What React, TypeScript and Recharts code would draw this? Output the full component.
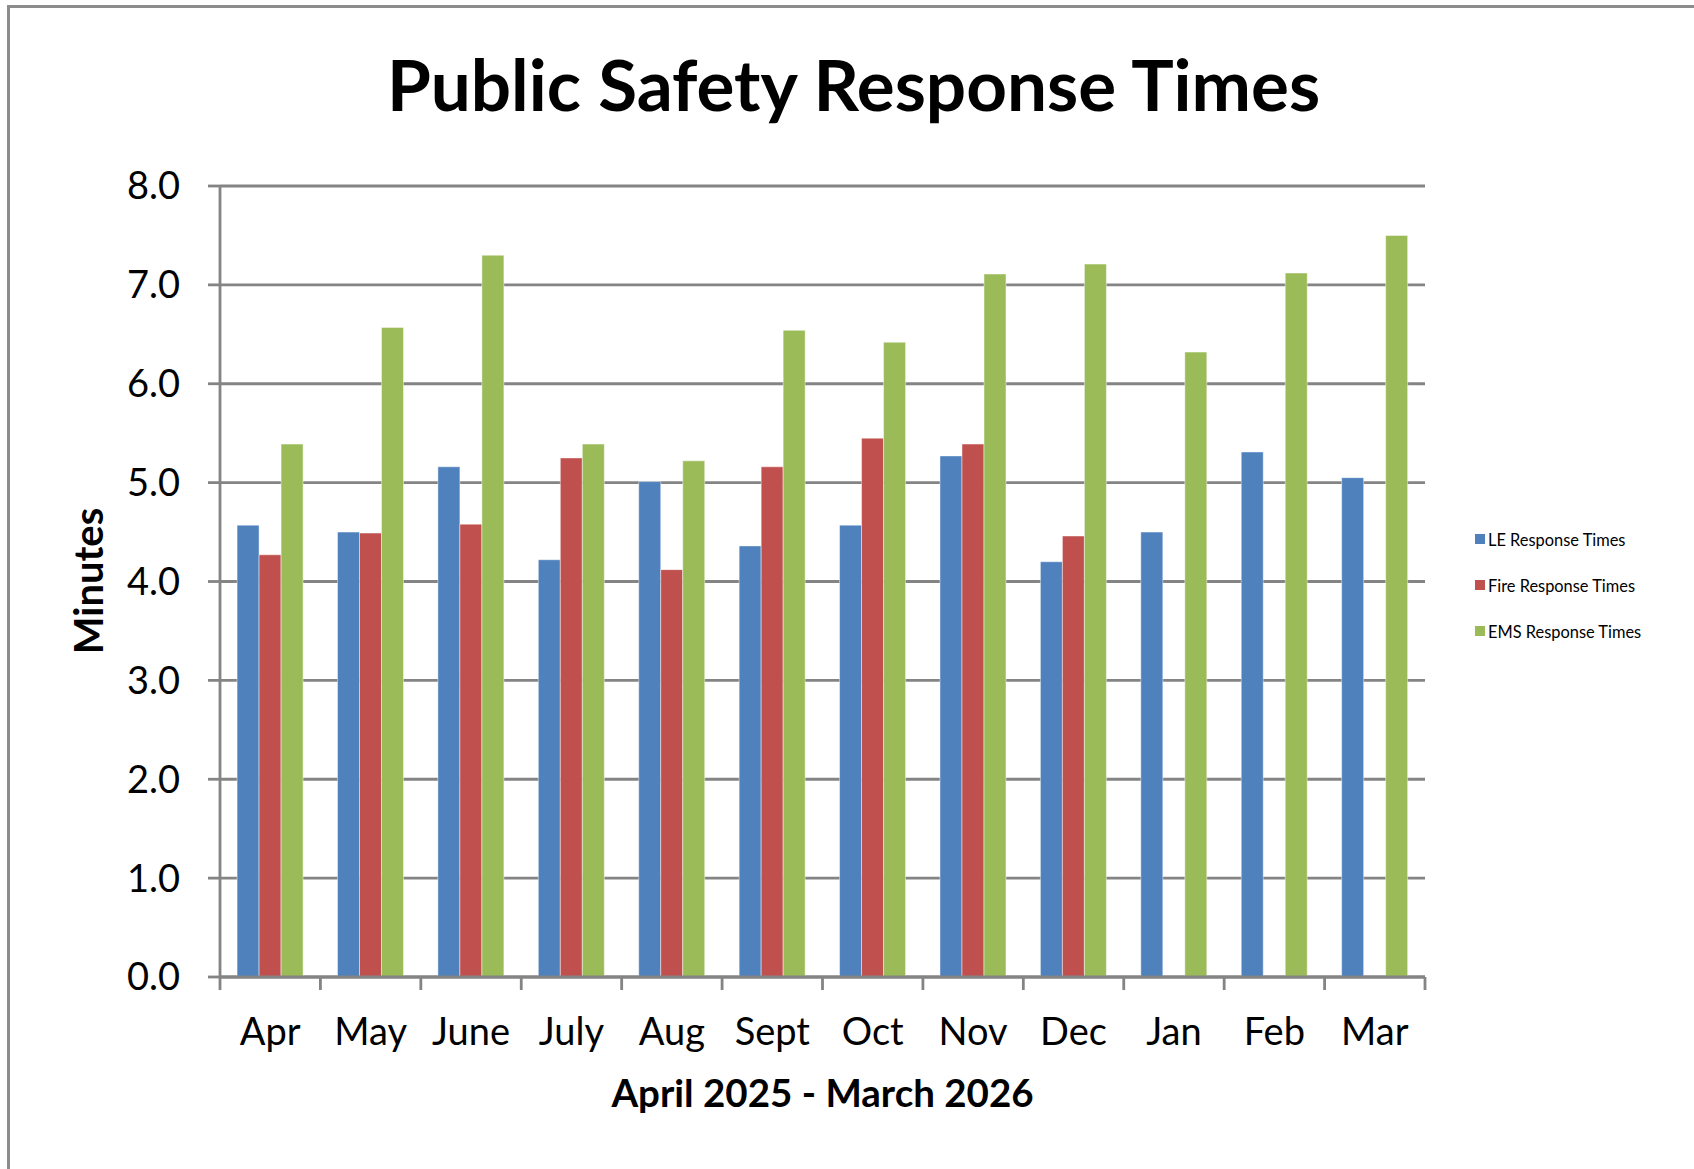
import { BarChart, Bar, XAxis, YAxis, CartesianGrid } from "recharts";

const MONTHS = ["Apr", "May", "June", "July", "Aug", "Sept", "Oct", "Nov", "Dec", "Jan", "Feb", "Mar"];
const LE_TIMES = [4.57, 4.5, 5.16, 4.22, 5.01, 4.36, 4.57, 5.27, 4.2, 4.5, 5.31, 5.05];
const FIRE_TIMES = [4.27, 4.49, 4.58, 5.25, 4.12, 5.16, 5.45, 5.39, 4.46, null, null, null];
const EMS_TIMES = [5.39, 6.57, 7.3, 5.39, 5.22, 6.54, 6.42, 7.11, 7.21, 6.32, 7.12, 7.5];
const Y_TICKS = [0, 1, 2, 3, 4, 5, 6, 7, 8];

const SERIES = [
  { key: "le", name: "LE Response Times", color: "#4F81BD" },
  { key: "fire", name: "Fire Response Times", color: "#C0504D" },
  { key: "ems", name: "EMS Response Times", color: "#9BBB59" },
];

const data = MONTHS.map((m, i) => ({ month: m, le: LE_TIMES[i], fire: FIRE_TIMES[i], ems: EMS_TIMES[i] }));

const FONT = "Lato, 'Open Sans', sans-serif";
const GRID = "#848484";

// month label plus the tick marks between categories (Excel style)
const MonthTick = (props: any) => {
  const { x, y, payload, index, visibleTicksCount } = props;
  const half = payload?.offset ?? 50;
  const last = index === visibleTicksCount - 1;
  return (
    <g>
      <line x1={x - half} x2={x - half} y1={y} y2={y + 13} stroke={GRID} strokeWidth={2.8} />
      {last && <line x1={x + half} x2={x + half} y1={y} y2={y + 13} stroke={GRID} strokeWidth={2.8} />}
      <text x={x} y={y + 68} textAnchor="middle" fontSize={38} fill="#000" fontFamily={FONT}>
        {payload.value}
      </text>
    </g>
  );
};

const LegendBox = () => (
  <div style={{ fontFamily: FONT, fontSize: 16.4, color: "#000" }}>
    {SERIES.map((s) => (
      <div key={s.key} style={{ display: "flex", alignItems: "center", height: 46 }}>
        <span style={{ width: 10, height: 10, background: s.color, marginRight: 3, display: "inline-block" }} />
        {s.name}
      </div>
    ))}
  </div>
);

export default function App() {
  return (
    <div style={{ position: "absolute", left: 0, top: 0, width: 1694, height: 1169, overflow: "hidden", background: "#fff", fontFamily: FONT }}>
      <div style={{ position: "absolute", left: 7, top: 5, width: 1800, height: 1300, border: "3px solid #8c8c8c" }} />
      <BarChart
        width={1694}
        height={1169}
        data={data}
        margin={{ top: 186, right: 269, left: 0, bottom: 72 }}
        barCategoryGap="17%"
        barGap={0}
      >
        <CartesianGrid horizontal vertical={false} stroke={GRID} strokeWidth={2.8} />
        <XAxis
          dataKey="month"
          height={120}
          axisLine={{ stroke: GRID, strokeWidth: 2.8 }}
          tickLine={false}
          tickSize={0}
          tickMargin={0}
          interval={0}
          tick={<MonthTick />}
        />
        <YAxis
          width={220}
          domain={[0, 8]}
          ticks={Y_TICKS}
          interval={0}
          tickFormatter={(v) => Number(v).toFixed(1)}
          axisLine={{ stroke: GRID, strokeWidth: 2.8 }}
          tickLine={{ stroke: GRID, strokeWidth: 2.8 }}
          tickSize={12}
          tickMargin={28}
          tick={{ fontSize: 38, fill: "#000", fontFamily: FONT }}
        />
        {SERIES.map((s) => (
          <Bar
            key={s.key}
            dataKey={s.key}
            name={s.name}
            fill={s.color}
            stroke="#ffffff"
            strokeOpacity={0.45}
            strokeWidth={1}
            isAnimationActive={false}
          />
        ))}
      </BarChart>
      <div style={{ position: "absolute", left: 1475, top: 516 }}>
        <LegendBox />
      </div>
      <svg width={1694} height={1169} style={{ position: "absolute", left: 0, top: 0, pointerEvents: "none" }}>
        <text x={853.5} y={111} textAnchor="middle" fontSize={71} fontWeight="bold" fontFamily={FONT} fill="#000">
          Public Safety Response Times
        </text>
        <text x={822.5} y={1107} textAnchor="middle" fontSize={38.5} fontWeight="bold" fontFamily={FONT} fill="#000">
          April 2025 - March 2026
        </text>
        <text
          x={103}
          y={581}
          textAnchor="middle"
          fontSize={40}
          fontWeight="bold"
          fontFamily={FONT}
          fill="#000"
          transform="rotate(-90, 103, 581)"
        >
          Minutes
        </text>
      </svg>
    </div>
  );
}
